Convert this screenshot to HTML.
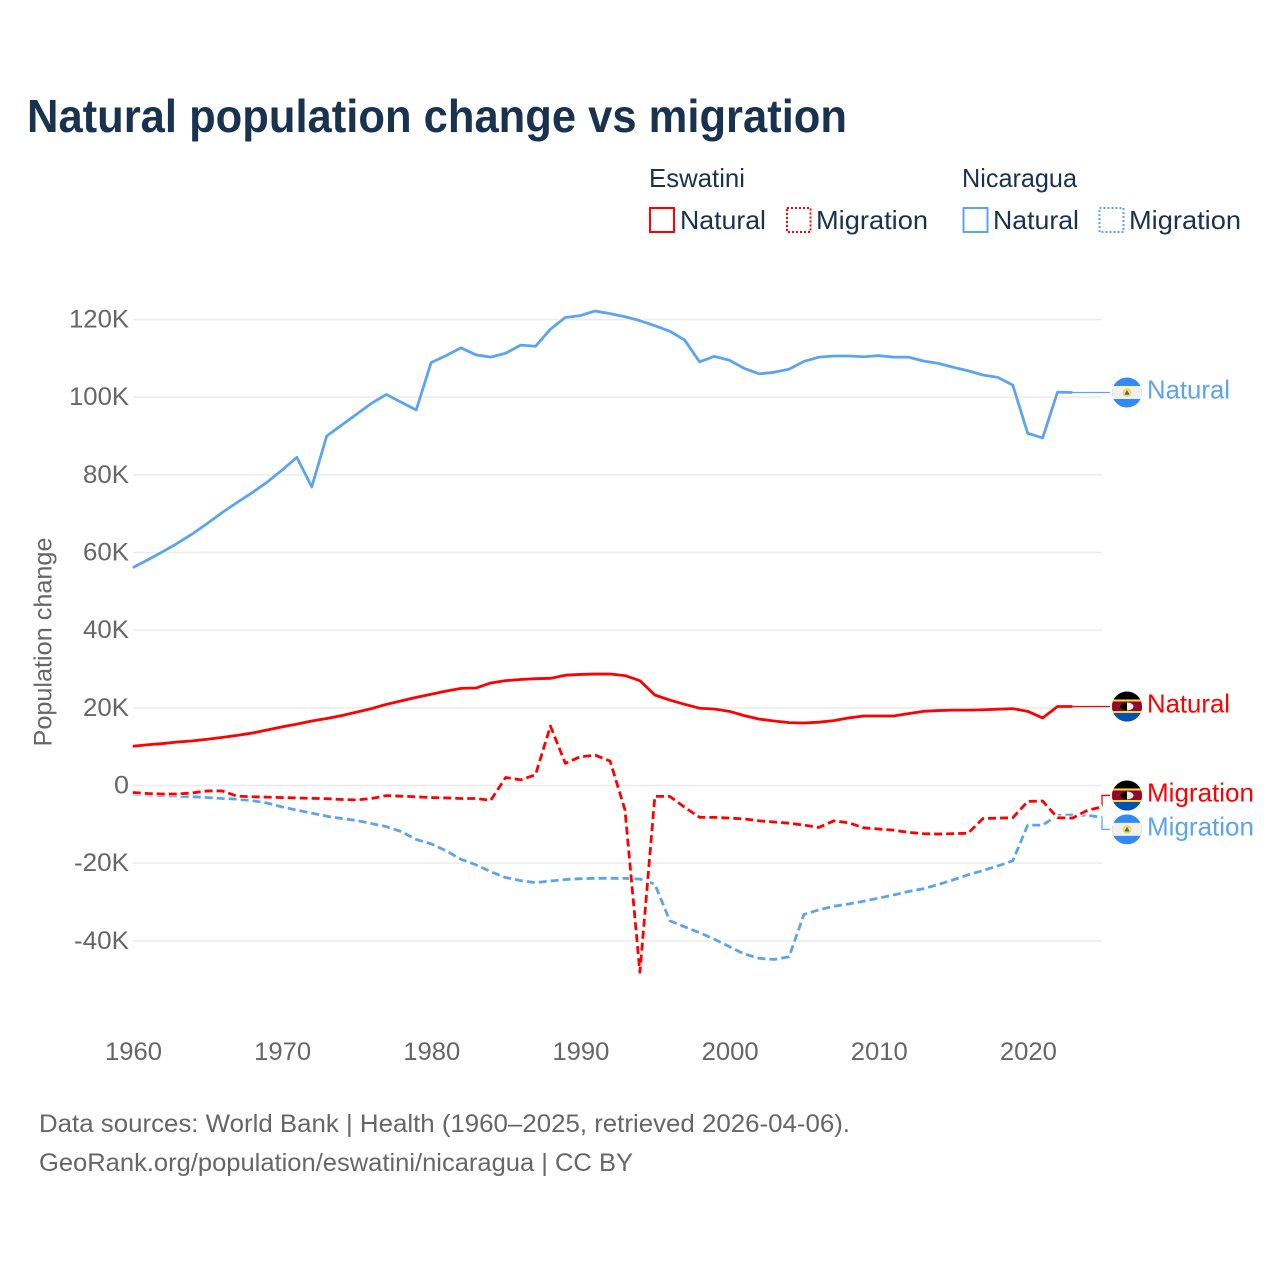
<!DOCTYPE html>
<html lang="en">
<head>
<meta charset="utf-8">
<title>Natural population change vs migration</title>
<style>
html,body{margin:0;padding:0;background:#fff}
svg{display:block}
text{font-family:"Liberation Sans",sans-serif}
</style>
</head>
<body>
<svg id="chart" xmlns="http://www.w3.org/2000/svg" width="1280" height="1280" viewBox="0 0 1280 1280">
  <rect width="1280" height="1280" fill="#fff"/>
  <text x="27" y="132" font-size="46" font-weight="700" fill="#18324f" textLength="820" lengthAdjust="spacingAndGlyphs">Natural population change vs migration</text>

  <g font-size="26" fill="#18324f">
    <text x="649" y="187" textLength="96" lengthAdjust="spacingAndGlyphs">Eswatini</text>
    <text x="962" y="187" textLength="115" lengthAdjust="spacingAndGlyphs">Nicaragua</text>
    <rect x="650" y="208" width="24" height="24" fill="none" stroke="#ff0000" stroke-width="2"/>
    <text x="680" y="229" textLength="86" lengthAdjust="spacingAndGlyphs">Natural</text>
    <rect x="787" y="208" width="23.5" height="24" fill="none" stroke="#ff0000" stroke-width="2" stroke-dasharray="2 2"/>
    <text x="816" y="229" textLength="112" lengthAdjust="spacingAndGlyphs">Migration</text>
    <rect x="963.5" y="208" width="24" height="24" fill="none" stroke="#5ba4ef" stroke-width="2"/>
    <text x="993" y="229" textLength="86" lengthAdjust="spacingAndGlyphs">Natural</text>
    <rect x="1099.5" y="208" width="24" height="24" fill="none" stroke="#5ba4ef" stroke-width="2" stroke-dasharray="2 2"/>
    <text x="1129" y="229" textLength="112" lengthAdjust="spacingAndGlyphs">Migration</text>
  </g>

  <text transform="translate(51.5,642) rotate(-90)" text-anchor="middle" font-size="25" fill="#666" textLength="209" lengthAdjust="spacingAndGlyphs">Population change</text>

  <g id="grid"></g>
  <g id="yaxis"></g>
  <g id="xaxis"></g>
  <g id="connectors"></g>
  <g id="series"></g>

  <defs>
    <clipPath id="flag-clip"><circle cx="0" cy="0" r="15"/></clipPath>
  </defs>

  <g id="label-nic-natural">
    <g clip-path="url(#flag-clip)" transform="translate(1127,0)">
      <rect x="-15" y="-15" width="30" height="30" fill="#338af3"/>
      <rect x="-15" y="-6.5" width="30" height="13" fill="#f0f0f0"/>
      <circle r="4.4" fill="#ffda44"/><path d="M-2.6 2.2 0-2.6 2.6 2.2Z" fill="#2a6fb5"/>
    </g>
    <text x="1147" y="6" font-size="26" fill="#5ba4ef" textLength="83" lengthAdjust="spacingAndGlyphs">Natural</text>
  </g>
  <g id="label-esw-natural">
    <g clip-path="url(#flag-clip)" transform="translate(1127,0)">
      <rect x="-15" y="-15" width="30" height="30" fill="#000"/>
      <rect x="-15" y="6.5" width="30" height="8.5" fill="#0052b4"/>
      <rect x="-15" y="-7" width="30" height="13.5" fill="#ffda44"/>
      <rect x="-15" y="-5" width="30" height="9.5" fill="#a2001d"/>
      <ellipse cx="0" cy="0" rx="6.5" ry="4" fill="#000"/><path d="M0-4A6.5 4 0 0 1 0 4Z" fill="#f0f0f0"/>
      <rect x="-10.5" y="-.7" width="3.5" height="1.4" fill="#0052b4"/><rect x="7" y="-.7" width="3.5" height="1.4" fill="#0052b4"/>
    </g>
    <text x="1147" y="6" font-size="26" fill="#ff0000" textLength="83" lengthAdjust="spacingAndGlyphs">Natural</text>
  </g>
  <g id="label-esw-migration">
    <g clip-path="url(#flag-clip)" transform="translate(1127,0)">
      <rect x="-15" y="-15" width="30" height="30" fill="#000"/>
      <rect x="-15" y="6.5" width="30" height="8.5" fill="#0052b4"/>
      <rect x="-15" y="-7" width="30" height="13.5" fill="#ffda44"/>
      <rect x="-15" y="-5" width="30" height="9.5" fill="#a2001d"/>
      <ellipse cx="0" cy="0" rx="6.5" ry="4" fill="#000"/><path d="M0-4A6.5 4 0 0 1 0 4Z" fill="#f0f0f0"/>
      <rect x="-10.5" y="-.7" width="3.5" height="1.4" fill="#0052b4"/><rect x="7" y="-.7" width="3.5" height="1.4" fill="#0052b4"/>
    </g>
    <text x="1147" y="6" font-size="26" fill="#ff0000" textLength="107" lengthAdjust="spacingAndGlyphs">Migration</text>
  </g>
  <g id="label-nic-migration">
    <g clip-path="url(#flag-clip)" transform="translate(1127,0)">
      <rect x="-15" y="-15" width="30" height="30" fill="#338af3"/>
      <rect x="-15" y="-6.5" width="30" height="13" fill="#f0f0f0"/>
      <circle r="4.4" fill="#ffda44"/><path d="M-2.6 2.2 0-2.6 2.6 2.2Z" fill="#2a6fb5"/>
    </g>
    <text x="1147" y="6" font-size="26" fill="#5ba4ef" textLength="107" lengthAdjust="spacingAndGlyphs">Migration</text>
  </g>

  <text x="39" y="1132" font-size="25" fill="#666" textLength="811" lengthAdjust="spacingAndGlyphs">Data sources: World Bank | Health (1960–2025, retrieved 2026-04-06).</text>
  <text x="39" y="1171" font-size="25" fill="#666" textLength="594" lengthAdjust="spacingAndGlyphs">GeoRank.org/population/eswatini/nicaragua | CC BY</text>
</svg>
<script>
const firstYear = 1960;
const xTickYears = [1960, 1970, 1980, 1990, 2000, 2010, 2020];
const yTickValues = [-40, -20, 0, 20, 40, 60, 80, 100, 120];
const yTickLabels = ['-40K', '-20K', '0', '20K', '40K', '60K', '80K', '100K', '120K'];

// thousands of people per year, 1960-2023
const nicaraguaNatural = [56.1,58.1,60.2,62.4,64.8,67.5,70.3,72.9,75.4,78.1,81.2,84.5,76.9,90.0,92.8,95.6,98.4,100.7,98.7,96.7,108.9,110.7,112.7,110.9,110.3,111.3,113.4,113.1,117.5,120.5,121.0,122.2,121.5,120.7,119.7,118.4,117.0,114.7,109.1,110.5,109.5,107.4,106.0,106.4,107.2,109.2,110.3,110.6,110.6,110.4,110.7,110.3,110.3,109.3,108.7,107.7,106.8,105.7,105.1,103.1,90.7,89.5,101.3,101.2];
const eswatiniNatural = [10.1,10.5,10.8,11.2,11.5,11.9,12.4,12.9,13.5,14.3,15.1,15.8,16.6,17.25,18.0,18.9,19.8,20.9,21.8,22.7,23.5,24.3,25.0,25.1,26.4,27.0,27.3,27.5,27.6,28.4,28.6,28.7,28.7,28.3,27.0,23.3,22.0,20.9,19.9,19.7,19.1,18.0,17.1,16.6,16.2,16.1,16.3,16.7,17.4,17.9,17.9,17.9,18.5,19.1,19.3,19.4,19.4,19.5,19.65,19.8,19.1,17.4,20.35,20.35];
// thousands of people per year, 1960-2025
const nicaraguaMigration = [-2.2,-2.4,-2.6,-2.75,-2.9,-3.1,-3.35,-3.5,-3.9,-4.5,-5.5,-6.35,-7.1,-7.9,-8.5,-9.0,-9.8,-10.6,-11.85,-13.9,-15.0,-16.8,-19.0,-20.4,-22.2,-23.7,-24.5,-25.0,-24.6,-24.2,-24.0,-23.9,-23.9,-23.9,-24.1,-25.4,-34.8,-36.4,-37.9,-39.6,-41.5,-43.4,-44.5,-44.8,-44.1,-33.2,-32.0,-31.1,-30.5,-29.8,-29.0,-28.2,-27.3,-26.6,-25.5,-24.3,-23.0,-21.9,-20.7,-19.4,-10.2,-10.2,-7.7,-7.6,-7.7,-8.2];
const eswatiniMigration = [-1.8,-2.06,-2.2,-2.2,-1.9,-1.4,-1.4,-2.75,-2.9,-3.0,-3.1,-3.2,-3.3,-3.4,-3.6,-3.7,-3.35,-2.6,-2.75,-2.9,-3.1,-3.2,-3.35,-3.35,-3.8,2.06,1.46,2.75,15.3,5.7,7.4,7.8,6.3,-6.3,-48.1,-2.8,-2.8,-5.6,-8.2,-8.2,-8.4,-8.6,-9.1,-9.4,-9.7,-10.2,-10.8,-9.1,-9.6,-10.9,-11.2,-11.5,-12.05,-12.4,-12.5,-12.4,-12.3,-8.5,-8.4,-8.3,-4.1,-4.0,-8.3,-8.4,-6.4,-5.5];

const NS = 'http://www.w3.org/2000/svg';
const RED = '#ff0000';
const BLUE = '#5ba4ef';
const plotLeft = 132.8;
const plotRight = 1102;
const flagEdge = 1110;

function xScale(year) { return plotLeft + (year - 1960) * 14.915; }
function yScale(k) { return 785.5 - k * 3.8835; }

function make(tag, attrs, parent) {
  const el = document.createElementNS(NS, tag);
  for (const key in attrs) el.setAttribute(key, attrs[key]);
  parent.appendChild(el);
  return el;
}
function pathFor(values) {
  return values.map((v, i) => (i ? 'L' : 'M') + xScale(firstYear + i).toFixed(2) + ' ' + yScale(v).toFixed(2)).join(' ');
}

const grid = document.getElementById('grid');
const yaxis = document.getElementById('yaxis');
const xaxis = document.getElementById('xaxis');
yTickValues.forEach((value, i) => {
  const y = yScale(value);
  const line = make('line', { x1: plotLeft, x2: plotRight, y1: y, y2: y, stroke: '#ebebeb', 'stroke-width': 1.5 }, grid);
  
  
  const label = yTickLabels[i];
  const width = label.length === 1 ? 15 : (label.length === 4 ? (label[0] === '-' ? 55 : 60) : 46);
  const t = make('text', { x: 129, y: y + 8, 'text-anchor': 'end', 'font-size': 25, fill: '#666', textLength: width, lengthAdjust: 'spacingAndGlyphs' }, yaxis);
  t.textContent = label;
  
  
});
xTickYears.forEach((year, i) => {
  const t = make('text', { x: xScale(year) + (i ? 0.7 : 0.7), y: 1060, 'text-anchor': 'middle', 'font-size': 25, fill: '#666', textLength: 57, lengthAdjust: 'spacingAndGlyphs' }, xaxis);
  t.textContent = String(year);
  
  
});

const seriesGroup = document.getElementById('series');
function drawSeries(values, color, dashed) {
  const d = pathFor(values);
  const halo = make('path', { d: d, fill: 'none', stroke: '#fff', 'stroke-width': 4.5, 'stroke-linejoin': 'round' }, seriesGroup);
  
  
  const attrs = { d: d, fill: 'none', stroke: color, 'stroke-width': 2.8, 'stroke-linejoin': 'round' };
  if (dashed) attrs['stroke-dasharray'] = '8 4';
  const line = make('path', attrs, seriesGroup);
  
  
}
drawSeries(nicaraguaNatural, BLUE, false);
drawSeries(eswatiniNatural, RED, false);
drawSeries(nicaraguaMigration, BLUE, true);
drawSeries(eswatiniMigration, RED, true);

const connectors = document.getElementById('connectors');
function lastOf(values) { return values[values.length - 1]; }
function connect(d, color) {
  const c = make('path', { d: d, fill: 'none', stroke: color, 'stroke-width': 1.3 }, connectors);
  
  
}
function place(id, y) { document.getElementById(id).setAttribute('transform', 'translate(0,' + y.toFixed(2) + ')'); }

const yNicNat = yScale(lastOf(nicaraguaNatural));
const yEswNat = yScale(lastOf(eswatiniNatural));
const yEswMigEnd = yScale(lastOf(eswatiniMigration));
const yNicMigEnd = yScale(lastOf(nicaraguaMigration));
const yEswMig = yEswMigEnd - 11.4;
const yNicMig = yNicMigEnd + 12;
const xNatEnd = xScale(firstYear + nicaraguaNatural.length - 1);

connect('M' + xNatEnd + ' ' + yNicNat + ' L' + flagEdge + ' ' + yNicNat, BLUE);
connect('M' + xNatEnd + ' ' + yEswNat + ' L' + flagEdge + ' ' + yEswNat, RED);
connect('M' + plotRight + ' ' + yEswMigEnd + ' V' + yEswMig + ' H' + flagEdge, RED);
connect('M' + plotRight + ' ' + yNicMigEnd + ' V' + yNicMig + ' H' + flagEdge, BLUE);

place('label-nic-natural', yNicNat);
place('label-esw-natural', yEswNat);
place('label-esw-migration', yEswMig);
place('label-nic-migration', yNicMig);
</script>
</body>
</html>
